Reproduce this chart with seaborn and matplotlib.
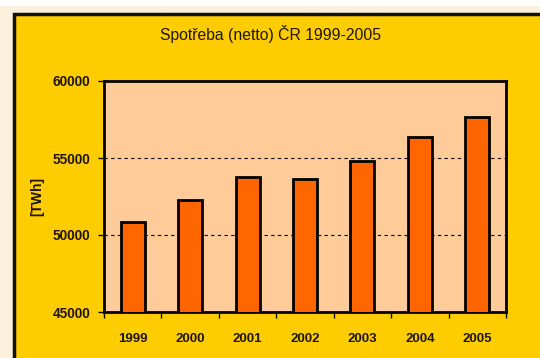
import matplotlib
matplotlib.use("Agg")
import matplotlib.pyplot as plt
import seaborn as sns
import pandas as pd
from matplotlib.patches import Rectangle
from matplotlib.ticker import FixedLocator

years = ["1999", "2000", "2001", "2002", "2003", "2004", "2005"]
consumption = [50820, 52290, 53790, 53640, 54800, 56390, 57680]
y_ticks = [45000, 50000, 55000, 60000]
title = "Spotřeba (netto) ČR 1999-2005"
y_label = "[TWh]"

sns.set_theme(style="white")
plt.rcParams["font.family"] = ["Liberation Sans", "DejaVu Sans"]

df = pd.DataFrame({"year": years, "value": consumption})

W, H = 540, 358
fig = plt.figure(figsize=(W / 100, H / 100), dpi=100)
fig.patch.set_facecolor("#FBF0DC")

# white strip at top
fig.patches.append(Rectangle((0, 1 - 6 / H), 1, 6 / H, transform=fig.transFigure,
                             facecolor="white", edgecolor="none", zorder=-2))
# yellow chart area with black border
fig.patches.append(Rectangle((13.5 / W, -0.05), 1.1, 1 - 13.5 / H + 0.05,
                             transform=fig.transFigure, facecolor="#FFCC00",
                             edgecolor="#111111", linewidth=2.5, zorder=-1))

ax = fig.add_axes([104 / W, 1 - 312 / H, (506 - 104) / W, (312 - 81) / H])
ax.set_zorder(2)
ax.set_facecolor("#FFCC99")

sns.barplot(data=df, x="year", y="value", color="#FF6600", edgecolor="black",
            linewidth=2, width=0.42, saturation=1, ax=ax, zorder=3)

txt = "#1f1500"
ax.set_ylim(45000, 60000)
ax.set_xlim(-0.5, len(years) - 0.5)
ax.set_yticks(y_ticks)
ax.set_yticklabels([str(v) for v in y_ticks], fontsize=9.8, fontweight="bold", color=txt)
ax.set_xticks(range(len(years)))
ax.set_xticklabels(years, fontsize=9.5, fontweight="bold", color=txt)
ax.xaxis.set_minor_locator(FixedLocator([i - 0.5 for i in range(len(years) + 1)]))
ax.tick_params(axis="x", which="major", length=0, pad=15)
ax.tick_params(axis="x", which="minor", length=4, width=1, color="black", direction="out", bottom=True)
ax.tick_params(axis="y", which="major", length=4, width=1, color="black", direction="out", left=True, pad=6)

for v in [50000, 55000]:
    ax.axhline(v, color="black", linestyle=(0, (3, 3)), linewidth=0.8, zorder=1)

for s in ax.spines.values():
    s.set_visible(True)
    s.set_color("black")
    s.set_linewidth(2)

ax.set_xlabel("")
ax.set_ylabel(y_label, fontsize=10, fontweight="bold", color=txt, labelpad=6)

fig.text(270 / W, 1 - 34 / H, title, ha="center", va="center", fontsize=11.3, color=txt)

fig.savefig("out.png", dpi=100, facecolor=fig.get_facecolor())
